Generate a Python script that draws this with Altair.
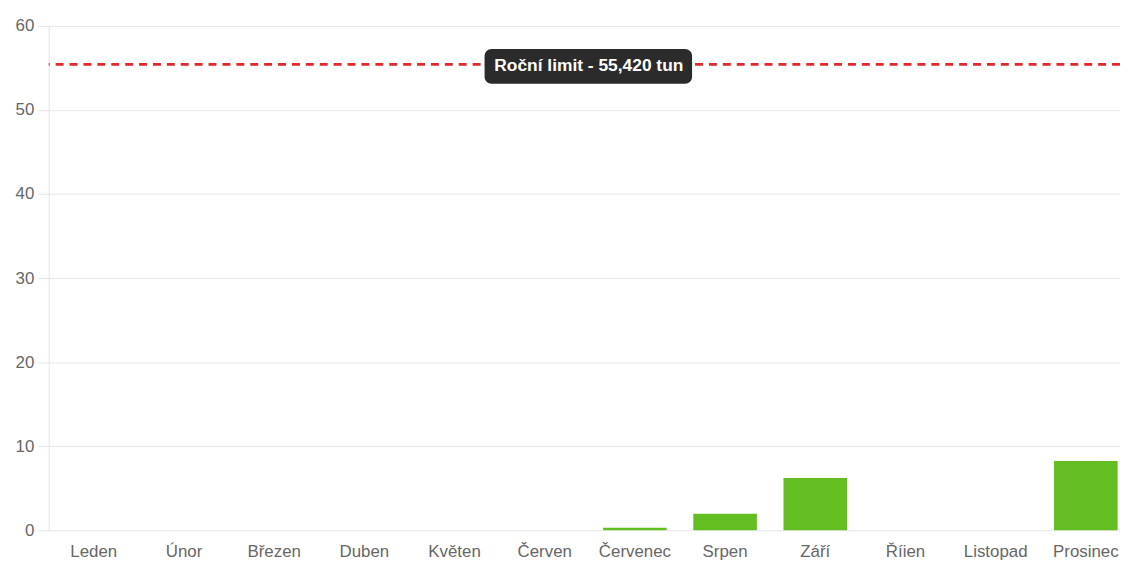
import altair as alt
import pandas as pd

labels = ["Leden", "Únor", "Březen", "Duben", "Květen", "Červen",
          "Červenec", "Srpen", "Září", "Říien", "Listopad", "Prosinec"]
tons = [0, 0, 0, 0, 0, 0, 0.3, 1.95, 6.2, 0, 0, 8.25]
limit_value = 55.42
limit_text = "Roční limit - 55,420 tun"
y_ticks = [0, 10, 20, 30, 40, 50, 60]

W, H = 1079, 508

df = pd.DataFrame({"month": labels, "tons": tons})
lim = pd.DataFrame({"limit": [limit_value], "text": [limit_text]})

font = "Liberation Sans"

bars = alt.Chart(df).mark_bar(color="#63be21").encode(
    x=alt.X("month:N", sort=labels, title=None,
            scale=alt.Scale(paddingInner=0.295, paddingOuter=0.1475,
                            range=[0, 1090]),
            axis=alt.Axis(labelAngle=0, ticks=False, domain=False, grid=False,
                          labelFont=font, labelFontSize=17, labelColor="#666666",
                          labelPadding=13)),
    y=alt.Y("tons:Q", title=None,
            scale=alt.Scale(domain=[0, 60], nice=False),
            axis=alt.Axis(values=y_ticks, tickSize=11,
                          tickColor="#e3e3e3", gridColor="#e6e6e6",
                          domainColor="#e3e3e3", labelFont=font,
                          labelFontSize=17, labelColor="#666666",
                          labelPadding=4)),
)

rule = alt.Chart(lim).mark_rule(color="#e3262b", strokeWidth=3,
                                strokeDash=[8, 6]).encode(
    y=alt.Y("limit:Q"),
)

box = alt.Chart(lim).mark_rect(color="#2b2b2b", height=35,
                               cornerRadius=7, yOffset=2).encode(
    y=alt.Y("limit:Q"),
    x=alt.value(439), x2=alt.value(648),
)

txt = alt.Chart(lim).mark_text(color="white", font=font, fontSize=17.5,
                               fontWeight="bold", dy=2).encode(
    y=alt.Y("limit:Q"),
    x=alt.value(544),
    text="text:N",
)

chart = alt.layer(bars, rule, box, txt).properties(
    width=W, height=H,
    autosize=alt.AutoSizeParams(type="none"),
    padding={"left": 41, "top": 16, "right": 0, "bottom": 32},
).configure_view(stroke=None)

chart.save("out.html", embed_options={"renderer": "svg", "actions": False})
